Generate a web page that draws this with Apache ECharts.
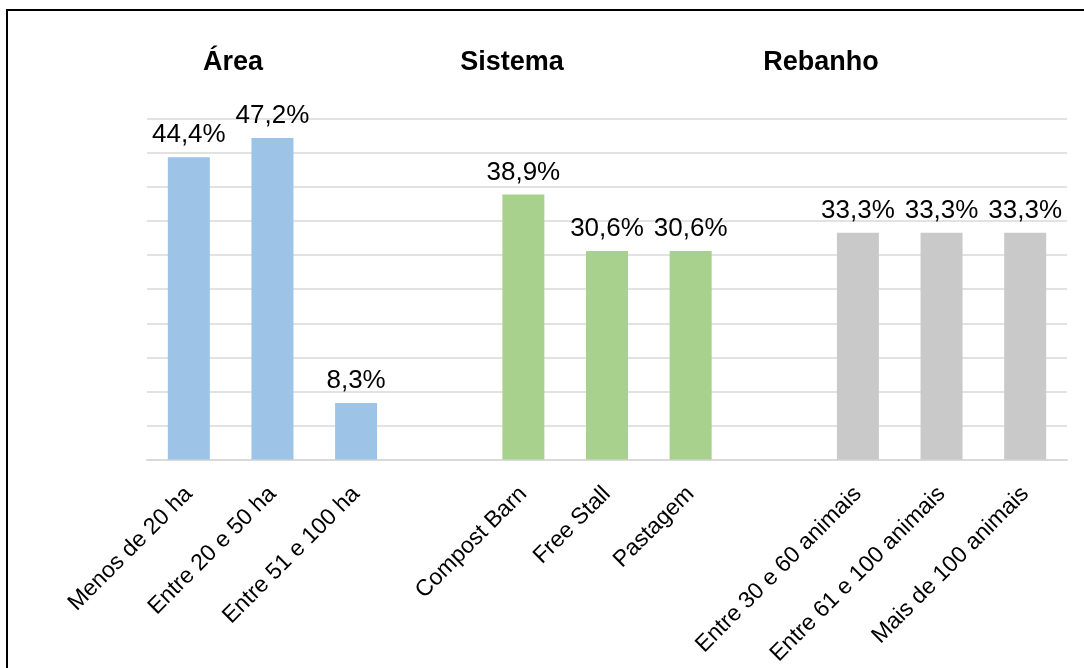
<!DOCTYPE html>
<html>
<head>
<meta charset="utf-8">
<script src="https://cdn.jsdelivr.net/npm/echarts@6/dist/echarts.min.js"></script>
<style>
  html, body { margin: 0; padding: 0; background: #fff; }
  #chart { width: 1084px; height: 668px; }
</style>
</head>
<body>
<div id="chart"></div>
<script>
// Group headings
const groupTitles = ['Área', 'Sistema', 'Rebanho'];

// Categories and values (%) of each group
const areaCategories = ['Menos de 20 ha', 'Entre 20 e 50 ha', 'Entre 51 e 100 ha'];
const areaValues = [44.4, 47.2, 8.3];

const sistemaCategories = ['Compost Barn', 'Free Stall', 'Pastagem'];
const sistemaValues = [38.9, 30.6, 30.6];

const rebanhoCategories = ['Entre 30 e 60 animais', 'Entre 61 e 100 animais', 'Mais de 100 animais'];
const rebanhoValues = [33.3, 33.3, 33.3];

const groupColors = ['#9dc3e6', '#a9d18e', '#c9c9c9'];
const titleCenters = [228, 507, 816];

// One empty slot separates consecutive groups on the category axis
const groups = [
  { cats: areaCategories, vals: areaValues },
  { cats: sistemaCategories, vals: sistemaValues },
  { cats: rebanhoCategories, vals: rebanhoValues }
];
const categories = [];
groups.forEach((g, i) => {
  if (i > 0) categories.push('');
  g.cats.forEach(c => categories.push(c));
});
const seriesList = groups.map((g, i) => {
  const data = categories.map(() => '-');
  let offset = i * (g.cats.length + 1);
  g.vals.forEach((v, j) => { data[offset + j] = v; });
  return {
    type: 'bar',
    name: groupTitles[i],
    data: data,
    barWidth: 42,
    barGap: '-100%',
    itemStyle: { color: groupColors[i] },
    label: {
      show: true,
      position: 'top',
      distance: 9,
      fontFamily: 'Liberation Sans, Arial, sans-serif',
      fontSize: 26,
      color: '#000',
      formatter: p => p.value.toFixed(1).replace('.', ',') + '%'
    },
    emphasis: { disabled: true }
  };
});

const chart = echarts.init(document.getElementById('chart'), null, { renderer: 'canvas' });
chart.setOption({
  animation: false,
  backgroundColor: '#fff',
  title: groupTitles.map((t, i) => ({
    text: t,
    left: titleCenters[i],
    top: 44,
    textAlign: 'center',
    textStyle: {
      fontFamily: 'Liberation Sans, Arial, sans-serif',
      fontSize: 27,
      fontWeight: 'bold',
      color: '#000'
    }
  })),
  grid: { left: 147, right: 17, top: 119, bottom: 207, containLabel: false },
  xAxis: {
    type: 'category',
    data: categories,
    axisLine: { show: true, lineStyle: { color: '#d9d9d9', width: 2 } },
    axisTick: { show: false },
    axisLabel: {
      interval: 0,
      rotate: 45,
      margin: 31,
      fontFamily: 'Liberation Sans, Arial, sans-serif',
      fontSize: 23,
      color: '#000'
    }
  },
  yAxis: {
    type: 'value',
    min: 0,
    max: 50,
    interval: 5,
    axisLine: { show: false },
    axisTick: { show: false },
    axisLabel: { show: false },
    splitLine: { lineStyle: { color: '#d9d9d9', width: 1.5 } }
  },
  series: seriesList,
  graphic: [{
    type: 'rect',
    shape: { x: 7, y: 10, width: 1200, height: 800 },
    style: { fill: 'none', stroke: '#000', lineWidth: 2 },
    silent: true
  }]
});
</script>
</body>
</html>
